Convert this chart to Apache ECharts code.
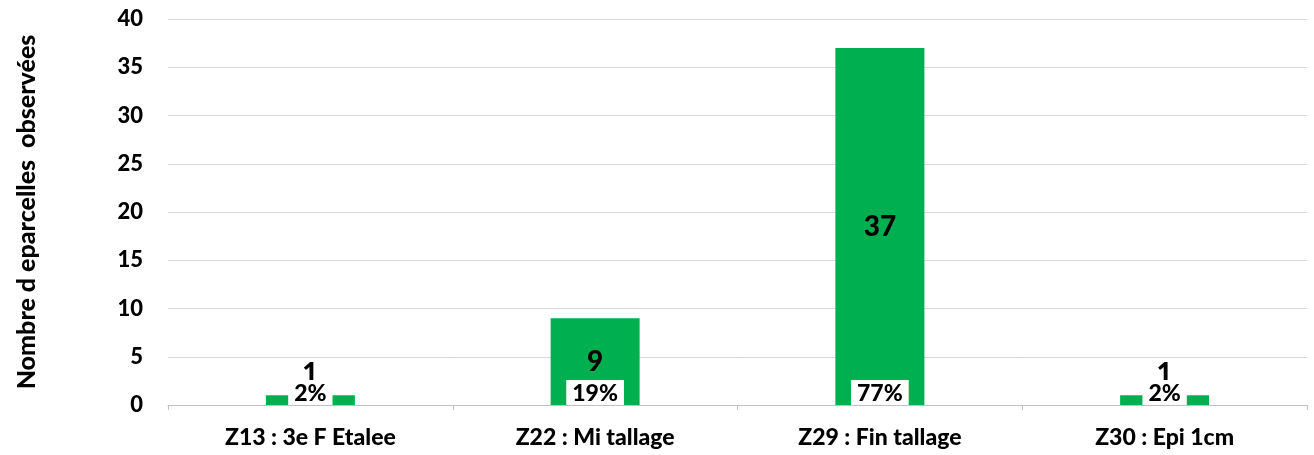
<!DOCTYPE html>
<html>
<head>
<meta charset="utf-8">
<script src="https://cdn.jsdelivr.net/npm/echarts@6/dist/echarts.min.js"></script>
<style>html,body{margin:0;padding:0;background:#fff}#c{width:1314px;height:455px}</style>
</head>
<body>
<div id="c"></div>
<script>
var categories = ['Z13 : 3e F Etalee', 'Z22 : Mi tallage', 'Z29 : Fin tallage', 'Z30 : Epi 1cm'];
var counts = [1, 9, 37, 1];
var percents = ['2%', '19%', '77%', '2%'];
var yTicks = [0, 5, 10, 15, 20, 25, 30, 35, 40];
var yTitle = 'Nombre d eparcelles  observées';

var FONT = 'Lato';
var W = 900;
var chart = echarts.init(document.getElementById('c'));
var valueData = counts.map(function (v) {
  var small = v < 3;
  return {
    value: v,
    label: small ? { position: 'top', distance: 7 } : { position: 'inside' }
  };
});
chart.setOption({
  animation: false,
  grid: { left: 168, right: 7, top: 19, bottom: 50 },
  xAxis: {
    type: 'category',
    data: categories,
    axisLine: { lineStyle: { color: '#bfbfbf', width: 1 } },
    axisTick: { show: true, length: 5, lineStyle: { color: '#bfbfbf' } },
    axisLabel: { color: '#000', fontFamily: FONT, fontWeight: W, fontSize: 23, margin: 21 }
  },
  yAxis: {
    type: 'value',
    min: yTicks[0],
    max: yTicks[yTicks.length - 1],
    interval: 5,
    name: yTitle,
    nameLocation: 'middle',
    nameGap: 141,
    nameTextStyle: { color: '#000', fontFamily: FONT, fontWeight: W, fontSize: 25, verticalAlign: 'middle' },
    axisLine: { show: false },
    axisTick: { show: false },
    axisLabel: { color: '#000', fontFamily: FONT, fontWeight: W, fontSize: 22, margin: 25 },
    splitLine: { lineStyle: { color: '#d9d9d9', width: 1 } }
  },
  series: [
    {
      type: 'bar',
      data: valueData,
      barWidth: 89,
      itemStyle: { color: '#00b050' },
      label: {
        show: true,
        color: '#000',
        fontFamily: FONT,
        fontWeight: W,
        fontSize: 28
      },
      z: 2
    },
    {
      type: 'bar',
      data: counts,
      barWidth: 89,
      barGap: '-100%',
      itemStyle: { color: 'rgba(0,0,0,0)' },
      label: {
        show: true,
        position: 'insideBottom',
        distance: 0,
        formatter: function (p) { return percents[p.dataIndex]; },
        color: '#000',
        fontFamily: FONT,
        fontWeight: W,
        fontSize: 23,
        lineHeight: 22,
        backgroundColor: '#fff',
        padding: [3, 6, 0, 6]
      },
      z: 3
    }
  ]
});
</script>
</body>
</html>
